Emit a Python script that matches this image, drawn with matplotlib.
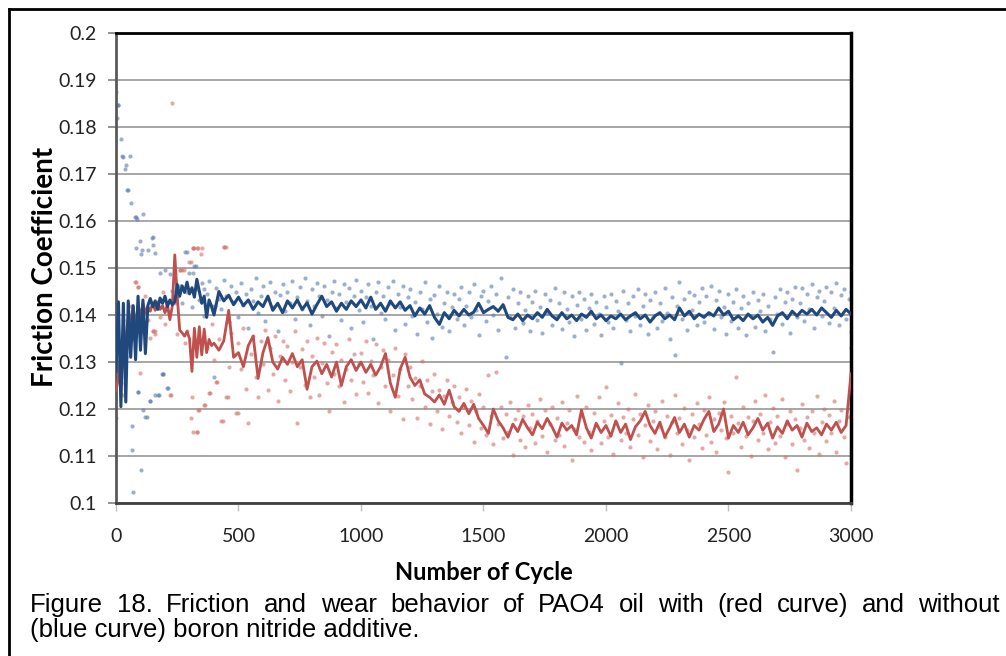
import matplotlib
matplotlib.use("Agg")
import matplotlib.pyplot as plt
import numpy as np
from matplotlib.lines import Line2D

# cycle positions of the sampled points
line_cycles = np.concatenate([np.arange(0, 400, 10), np.arange(400, 3001, 20)])
dot_cycles = np.arange(0, 3001, 10)

# averaged curve without additive (blue)
blue_line = [
    0.1280, 0.1428, 0.1205, 0.1425, 0.1215, 0.1430, 0.1310, 0.1420, 0.1305, 0.1440,
    0.1325, 0.1432, 0.1318, 0.1420, 0.1435, 0.1418, 0.1430, 0.1412, 0.1436, 0.1425,
    0.1440, 0.1418, 0.1432, 0.1422, 0.1428, 0.1465, 0.1440, 0.1462, 0.1448, 0.1470,
    0.1445, 0.1458, 0.1438, 0.1476, 0.1450, 0.1425, 0.1440, 0.1395, 0.1432, 0.1418,
    # 400 .. 3000 step 20
    0.1400, 0.1450, 0.1430, 0.1442, 0.1422, 0.1438, 0.1420, 0.1432, 0.1412, 0.1428,
    0.1418, 0.1440, 0.1410, 0.1425, 0.1405, 0.1430, 0.1415, 0.1432, 0.1412, 0.1426,
    0.1402, 0.1422, 0.1440, 0.1418, 0.1428, 0.1408, 0.1425, 0.1412, 0.1430, 0.1418,
    0.1432, 0.1415, 0.1438, 0.1412, 0.1425, 0.1408, 0.1430, 0.1415, 0.1428, 0.1410,
    0.1420, 0.1398, 0.1415, 0.1402, 0.1420, 0.1395, 0.1380, 0.1405, 0.1392, 0.1410,
    0.1398, 0.1412, 0.1400, 0.1406, 0.1425, 0.1405, 0.1412, 0.1418, 0.1408, 0.1422,
    0.1395, 0.1390, 0.1402, 0.1388, 0.1400, 0.1392, 0.1405, 0.1395, 0.1412, 0.1398,
    0.1390, 0.1405, 0.1392, 0.1400, 0.1388, 0.1402, 0.1395, 0.1408, 0.1392, 0.1400,
    0.1388, 0.1398, 0.1392, 0.1402, 0.1390, 0.1398, 0.1405, 0.1392, 0.1400, 0.1385,
    0.1398, 0.1405, 0.1392, 0.1400, 0.1390, 0.1415, 0.1398, 0.1408, 0.1392, 0.1402,
    0.1395, 0.1405, 0.1398, 0.1415, 0.1400, 0.1408, 0.1390, 0.1398, 0.1388, 0.1402,
    0.1392, 0.1400, 0.1385, 0.1395, 0.1378, 0.1398, 0.1405, 0.1392, 0.1408, 0.1398,
    0.1410, 0.1402, 0.1412, 0.1400, 0.1415, 0.1405, 0.1395, 0.1410, 0.1398, 0.1412,
    0.1402,
]

# averaged curve with boron nitride (red)
red_line = [
    0.1240, 0.1265, 0.1330, 0.1365, 0.1350, 0.1395, 0.1385, 0.1418, 0.1375, 0.1420,
    0.1398, 0.1425, 0.1405, 0.1418, 0.1408, 0.1425, 0.1410, 0.1428, 0.1412, 0.1420,
    0.1405, 0.1422, 0.1390, 0.1420, 0.1528, 0.1440, 0.1368, 0.1362, 0.1355, 0.1365,
    0.1350, 0.1280, 0.1372, 0.1310, 0.1375, 0.1315, 0.1370, 0.1320, 0.1348, 0.1335,
    # 400 .. 3000 step 20
    0.1340, 0.1325, 0.1345, 0.1410, 0.1310, 0.1320, 0.1290, 0.1335, 0.1355, 0.1265,
    0.1320, 0.1352, 0.1300, 0.1285, 0.1310, 0.1295, 0.1318, 0.1290, 0.1305, 0.1242,
    0.1290, 0.1302, 0.1275, 0.1295, 0.1268, 0.1300, 0.1250, 0.1290, 0.1305, 0.1282,
    0.1300, 0.1278, 0.1295, 0.1272, 0.1290, 0.1318, 0.1255, 0.1225, 0.1285, 0.1310,
    0.1268, 0.1250, 0.1262, 0.1232, 0.1225, 0.1215, 0.1230, 0.1210, 0.1240, 0.1205,
    0.1195, 0.1212, 0.1190, 0.1210, 0.1180, 0.1165, 0.1148, 0.1200, 0.1175, 0.1160,
    0.1140, 0.1168, 0.1152, 0.1178, 0.1160, 0.1145, 0.1172, 0.1158, 0.1180, 0.1162,
    0.1140, 0.1170, 0.1155, 0.1165, 0.1145, 0.1198, 0.1160, 0.1138, 0.1170, 0.1150,
    0.1165, 0.1142, 0.1175, 0.1150, 0.1168, 0.1135, 0.1162, 0.1175, 0.1195, 0.1165,
    0.1148, 0.1172, 0.1140, 0.1160, 0.1182, 0.1150, 0.1168, 0.1140, 0.1165, 0.1155,
    0.1178, 0.1195, 0.1152, 0.1168, 0.1200, 0.1138, 0.1165, 0.1150, 0.1172, 0.1145,
    0.1160, 0.1180, 0.1155, 0.1170, 0.1138, 0.1162, 0.1148, 0.1175, 0.1155, 0.1165,
    0.1140, 0.1170, 0.1152, 0.1160, 0.1145, 0.1168, 0.1155, 0.1172, 0.1150, 0.1165,
    0.1275,
]

# raw readings, one every 10 cycles
blue_dots = [
    0.1874, 0.1847, 0.1774, 0.1736, 0.1719, 0.1666, 0.1638, 0.1023, 0.1609, 0.1236,
    0.1557, 0.1615, 0.1183, 0.1538, 0.1217, 0.1566, 0.1531, 0.1230, 0.1490, 0.1274,
    0.1495, 0.1245, 0.1488, 0.1452, 0.1470, 0.1438, 0.1462, 0.1425, 0.1534, 0.1448,
    0.1490, 0.1418, 0.1504, 0.1455, 0.1432, 0.1468, 0.1398, 0.1445, 0.1472, 0.1420,
    0.1268, 0.1458, 0.1435, 0.1412, 0.1475, 0.1440, 0.1385, 0.1462, 0.1428, 0.1450,
    0.1395, 0.1468, 0.1422, 0.1445, 0.1372, 0.1455, 0.1430, 0.1478, 0.1405, 0.1440,
    0.1462, 0.1388, 0.1435, 0.1470, 0.1418, 0.1450, 0.1365, 0.1442, 0.1465, 0.1408,
    0.1448, 0.1425, 0.1472, 0.1392, 0.1438, 0.1460, 0.1412, 0.1478, 0.1430, 0.1378,
    0.1455, 0.1420, 0.1468, 0.1440, 0.1398, 0.1462, 0.1432, 0.1355, 0.1450, 0.1472,
    0.1415, 0.1445, 0.1390, 0.1466, 0.1428, 0.1458, 0.1372, 0.1440, 0.1475, 0.1410,
    0.1452, 0.1385, 0.1438, 0.1465, 0.1420, 0.1348, 0.1448, 0.1470, 0.1405, 0.1440,
    0.1392, 0.1460, 0.1425, 0.1472, 0.1368, 0.1445, 0.1418, 0.1462, 0.1380, 0.1438,
    0.1455, 0.1398, 0.1428, 0.1360, 0.1448, 0.1412, 0.1470, 0.1385, 0.1435, 0.1352,
    0.1442, 0.1402, 0.1462, 0.1375, 0.1425, 0.1450, 0.1365, 0.1418, 0.1445, 0.1392,
    0.1435, 0.1460, 0.1378, 0.1420, 0.1448, 0.1395, 0.1465, 0.1410, 0.1358, 0.1440,
    0.1452, 0.1388, 0.1430, 0.1462, 0.1400, 0.1445, 0.1368, 0.1478, 0.1420, 0.1310,
    0.1438, 0.1395, 0.1455, 0.1372, 0.1425, 0.1448, 0.1382, 0.1410, 0.1440, 0.1365,
    0.1428, 0.1452, 0.1390, 0.1418, 0.1362, 0.1445, 0.1405, 0.1432, 0.1378, 0.1458,
    0.1398, 0.1425, 0.1370, 0.1448, 0.1412, 0.1385, 0.1440, 0.1355, 0.1422, 0.1450,
    0.1392, 0.1435, 0.1368, 0.1415, 0.1445, 0.1380, 0.1428, 0.1402, 0.1358, 0.1440,
    0.1418, 0.1385, 0.1445, 0.1372, 0.1430, 0.1408, 0.1298, 0.1452, 0.1390, 0.1425,
    0.1365, 0.1440, 0.1398, 0.1455, 0.1378, 0.1420, 0.1445, 0.1360, 0.1432, 0.1395,
    0.1448, 0.1372, 0.1425, 0.1388, 0.1458, 0.1405, 0.1350, 0.1438, 0.1315, 0.1420,
    0.1470, 0.1392, 0.1435, 0.1368, 0.1450, 0.1410, 0.1442, 0.1378, 0.1428, 0.1458,
    0.1385, 0.1440, 0.1402, 0.1462, 0.1370, 0.1432, 0.1452, 0.1395, 0.1418, 0.1360,
    0.1445, 0.1388, 0.1428, 0.1455, 0.1372, 0.1415, 0.1440, 0.1358, 0.1425, 0.1398,
    0.1450, 0.1375, 0.1432, 0.1408, 0.1445, 0.1365, 0.1420, 0.1392, 0.1321, 0.1438,
    0.1402, 0.1455, 0.1380, 0.1428, 0.1448, 0.1362, 0.1435, 0.1460, 0.1395, 0.1425,
    0.1458, 0.1388, 0.1445, 0.1412, 0.1465, 0.1372, 0.1438, 0.1452, 0.1398, 0.1430,
    0.1460, 0.1382, 0.1448, 0.1415, 0.1468, 0.1378, 0.1442, 0.1455, 0.1392, 0.1435,
    0.1448,
]

red_dots = [
    0.1180, 0.1330, 0.1255, 0.1390, 0.1310, 0.1372, 0.1420, 0.1348, 0.1470, 0.1460,
    0.1277, 0.1405, 0.1440, 0.1390, 0.1352, 0.1365, 0.1360, 0.1415, 0.1395, 0.1448,
    0.1380, 0.1410, 0.1230, 0.1852, 0.1425, 0.1360, 0.1496, 0.1496, 0.1340, 0.1365,
    0.1513, 0.1226, 0.1543, 0.1151, 0.1198, 0.1543, 0.1209, 0.1330, 0.1234, 0.1380,
    0.1305, 0.1257, 0.1348, 0.1174, 0.1545, 0.1226, 0.1290, 0.1362, 0.1315, 0.1191,
    0.1340, 0.1285, 0.1372, 0.1242, 0.1170, 0.1318, 0.1355, 0.1268, 0.1225, 0.1345,
    0.1295, 0.1368, 0.1240, 0.1330, 0.1275, 0.1355, 0.1218, 0.1312, 0.1345, 0.1262,
    0.1335, 0.1238, 0.1300, 0.1365, 0.1170, 0.1290, 0.1328, 0.1252, 0.1345, 0.1225,
    0.1312, 0.1268, 0.1352, 0.1230, 0.1298, 0.1340, 0.1255, 0.1195, 0.1322, 0.1275,
    0.1338, 0.1248, 0.1305, 0.1215, 0.1285, 0.1350, 0.1262, 0.1318, 0.1232, 0.1295,
    0.1320, 0.1258, 0.1345, 0.1235, 0.1302, 0.1272, 0.1338, 0.1212, 0.1290, 0.1325,
    0.1248, 0.1305, 0.1195, 0.1272, 0.1330, 0.1228, 0.1285, 0.1178, 0.1318, 0.1250,
    0.1290, 0.1222, 0.1265, 0.1180, 0.1248, 0.1302, 0.1205, 0.1262, 0.1168, 0.1238,
    0.1275, 0.1195, 0.1240, 0.1158, 0.1228, 0.1262, 0.1185, 0.1215, 0.1250, 0.1172,
    0.1225, 0.1148, 0.1205, 0.1242, 0.1165, 0.1218, 0.1130, 0.1195, 0.1232, 0.1160,
    0.1205, 0.1145, 0.1272, 0.1185, 0.1125, 0.1279, 0.1168, 0.1205, 0.1138, 0.1190,
    0.1152, 0.1215, 0.1102, 0.1178, 0.1198, 0.1135, 0.1185, 0.1120, 0.1208, 0.1160,
    0.1190, 0.1128, 0.1175, 0.1222, 0.1142, 0.1198, 0.1108, 0.1168, 0.1205, 0.1135,
    0.1180, 0.1145, 0.1215, 0.1122, 0.1170, 0.1198, 0.1092, 0.1158, 0.1228, 0.1140,
    0.1185, 0.1130, 0.1205, 0.1152, 0.1112, 0.1192, 0.1165, 0.1225, 0.1128, 0.1175,
    0.1247, 0.1140, 0.1188, 0.1105, 0.1170, 0.1212, 0.1135, 0.1182, 0.1150, 0.1200,
    0.1120, 0.1178, 0.1232, 0.1145, 0.1190, 0.1098, 0.1165, 0.1208, 0.1132, 0.1175,
    0.1195, 0.1115, 0.1162, 0.1218, 0.1140, 0.1185, 0.1102, 0.1172, 0.1230, 0.1148,
    0.1180, 0.1125, 0.1202, 0.1155, 0.1092, 0.1190, 0.1140, 0.1212, 0.1168, 0.1118,
    0.1198, 0.1145, 0.1225, 0.1130, 0.1178, 0.1108, 0.1192, 0.1155, 0.1215, 0.1138,
    0.1066, 0.1185, 0.1150, 0.1268, 0.1170, 0.1120, 0.1205, 0.1142, 0.1182, 0.1100,
    0.1175, 0.1218, 0.1135, 0.1190, 0.1148, 0.1230, 0.1115, 0.1172, 0.1202, 0.1128,
    0.1185, 0.1142, 0.1222, 0.1098, 0.1168, 0.1195, 0.1125, 0.1178, 0.1070, 0.1160,
    0.1210, 0.1135, 0.1182, 0.1118, 0.1195, 0.1150, 0.1228, 0.1105, 0.1172, 0.1200,
    0.1132, 0.1188, 0.1150, 0.1218, 0.1108, 0.1175, 0.1198, 0.1140, 0.1085, 0.1182,
    0.1210,
]

# extra scattered readings in the running-in period
blue_extra_x = [4, 8, 25, 37, 44, 57, 66, 66, 78, 82, 86, 90, 102, 102, 108,
                110, 125, 139, 148, 151, 159, 175, 192, 212, 289, 313, 326, 188, 404, 360]
blue_extra_y = [0.1819, 0.1847, 0.1738, 0.1711, 0.1666, 0.1738, 0.1113, 0.1164, 0.1609, 0.1542,
                0.1604, 0.1236, 0.1070, 0.1530, 0.1539, 0.1198, 0.1183, 0.1217, 0.1563, 0.1550,
                0.1230, 0.1230, 0.1274, 0.1245, 0.1535, 0.1490, 0.1504, 0.1274, 0.1420, 0.1455]
red_extra_x = [4, 29, 78, 90, 150, 160, 224, 261, 277, 307, 314, 333, 306, 313, 329,
               335, 363, 384, 412, 437, 441, 457, 498, 313, 332, 348, 447, 3000, 3000]
red_extra_y = [0.1330, 0.1230, 0.1470, 0.1460, 0.1365, 0.1365, 0.1230, 0.1496, 0.1496, 0.1513,
               0.1543, 0.1543, 0.1180, 0.1151, 0.1151, 0.1198, 0.1209, 0.1234, 0.1257, 0.1174,
               0.1545, 0.1226, 0.1191, 0.1542, 0.1542, 0.1530, 0.1545, 0.1364, 0.1330]

x_ticks = [0, 500, 1000, 1500, 2000, 2500, 3000]
y_ticks = [0.1, 0.11, 0.12, 0.13, 0.14, 0.15, 0.16, 0.17, 0.18, 0.19, 0.2]
y_ticklabels = ["0.1", "0.11", "0.12", "0.13", "0.14", "0.15", "0.16", "0.17", "0.18", "0.19", "0.2"]

caption_1 = "Figure 18. Friction and wear behavior of PAO4 oil with (red curve) and without"
caption_2 = "(blue curve) boron nitride additive."

dark_blue = "#1f497d"
dark_red = "#c0504d"

fig = plt.figure(figsize=(10.06, 6.56), dpi=100)
ax = fig.add_axes([0.1153, 0.2332, 0.7306, 0.7165])

ax.yaxis.grid(color="#a6a6a6", lw=1.4)
ax.set_axisbelow(True)

ax.scatter(dot_cycles, blue_dots, s=9, color="#5b7bab", alpha=0.6, lw=0, zorder=2)
ax.scatter(blue_extra_x, blue_extra_y, s=9, color="#5b7bab", alpha=0.6, lw=0, zorder=2)
ax.scatter(dot_cycles, red_dots, s=9, color="#d2706d", alpha=0.6, lw=0, zorder=2)
ax.scatter(red_extra_x, red_extra_y, s=9, color="#d2706d", alpha=0.6, lw=0, zorder=2)

ax.plot(line_cycles, red_line, color=dark_red, lw=2, zorder=3)
ax.plot(line_cycles, blue_line, color=dark_blue, lw=2.2, zorder=4)

ax.set_xlim(0, 3000)
ax.set_ylim(0.1, 0.2)
ax.set_xticks(x_ticks)
ax.set_yticks(y_ticks)
ax.set_yticklabels(y_ticklabels)

for lab in ax.get_xticklabels() + ax.get_yticklabels():
    lab.set_fontfamily("Lato")
    lab.set_fontsize(14)
    lab.set_color("#222222")

ax.tick_params(axis="y", direction="out", length=6, width=1.2, color="#7f7f7f", pad=8)
ax.tick_params(axis="x", direction="out", length=6, width=1.0, color="#bfbfbf", pad=12)

ax.spines["left"].set_color("#595959")
ax.spines["left"].set_linewidth(2)
ax.spines["bottom"].set_color("#404040")
ax.spines["bottom"].set_linewidth(2)
ax.spines["top"].set_color("black")
ax.spines["top"].set_linewidth(2)
ax.spines["right"].set_color("black")
ax.spines["right"].set_linewidth(2.5)

fig.text(0.045, 0.593, "Friction Coefficient", rotation=90, ha="center", va="center",
         fontfamily="Lato", fontweight="bold", fontsize=20)
fig.text(0.481, 0.127, "Number of Cycle", ha="center", va="center",
         fontfamily="Lato", fontweight="bold", fontsize=17)

# caption, first line justified across the frame
renderer = fig.canvas.get_renderer()
x_left, x_right = 30 / 1006, 1000 / 1006
words = caption_1.split()
word_texts = [fig.text(0, 0.077, w, ha="left", va="center", fontfamily="Liberation Sans",
                       fontsize=18.5) for w in words]
widths = [t.get_window_extent(renderer).width / fig.bbox.width for t in word_texts]
gap = (x_right - x_left - sum(widths)) / (len(words) - 1)
pos = x_left
for t, w in zip(word_texts, widths):
    t.set_x(pos)
    pos += w + gap
fig.text(x_left, 0.039, caption_2, ha="left", va="center", fontfamily="Liberation Sans",
         fontsize=18.5)

# frame around the figure
fig.add_artist(Line2D([9 / 1006, 9 / 1006], [0, 1 - 9 / 656], transform=fig.transFigure,
                      color="black", lw=2))
fig.add_artist(Line2D([9 / 1006, 1], [1 - 9 / 656, 1 - 9 / 656], transform=fig.transFigure,
                      color="black", lw=2))

fig.savefig("out.png", dpi=100)
